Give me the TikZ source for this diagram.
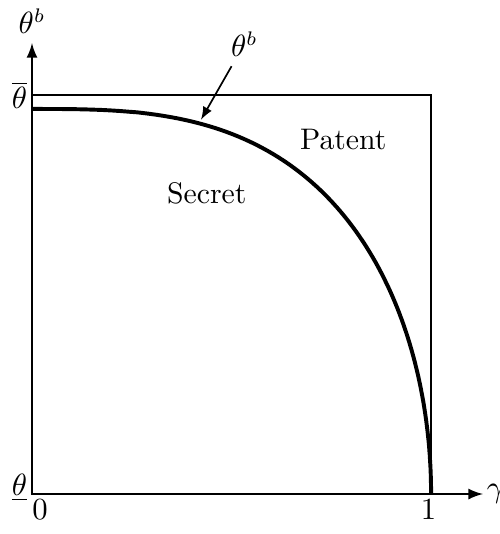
\documentclass[tikz,border=0pt]{standalone}
\usetikzlibrary{positioning}
\begin{document}
\begin{tikzpicture}[font=\fontsize{10.6}{12.7}\selectfont, >=latex]
    \useasboundingbox (-0.401,-0.501) rectangle (5.852,6.190);

    % Axes
    \coordinate (O) at (0,0);
    \coordinate (xend) at (5.65,0);
    \coordinate (yend) at (0,5.65);
    \draw[->, line width=0.8pt] (O) -- (xend) node[right, inner sep=1pt] (gam) {$\gamma$};
    \draw[->, line width=0.8pt] (O) -- (yend) node[above, inner sep=3pt] (thb) {$\theta^b$};

    % Box
    \draw[line width=0.6pt] (O) rectangle (5,5);

    % Ticks
    \node[anchor=east, inner sep=1.5pt] (thhi) at (0,5) {$\overline{\theta}$};
    \node[anchor=east, inner sep=1.5pt] (thlo) at (0,0.08) {$\underline{\theta}$};
    \node[below, inner sep=2pt] (zero) at (0.1,0) {$0$};
    \node[below, inner sep=2pt] (one) at (4.97,0) {$1$};

    % Boundary
    \draw[line width=1.4pt] plot[domain=0:90, samples=181]
        ({5*pow(max(cos(\x),0.00001),2/3)},{4.825*sin(\x)});

    % Regions
    \node (secret) at (2.19,3.77) {Secret};
    \node (patent) at (3.90,4.44) {Patent};

    % Curve label
    \node (curv) at (2.66,5.64) {$\theta^b$};
    \coordinate (tip) at (2.118,4.69);
    \draw[->, line width=0.6pt] (curv) -- (tip);
\end{tikzpicture}
\end{document}
